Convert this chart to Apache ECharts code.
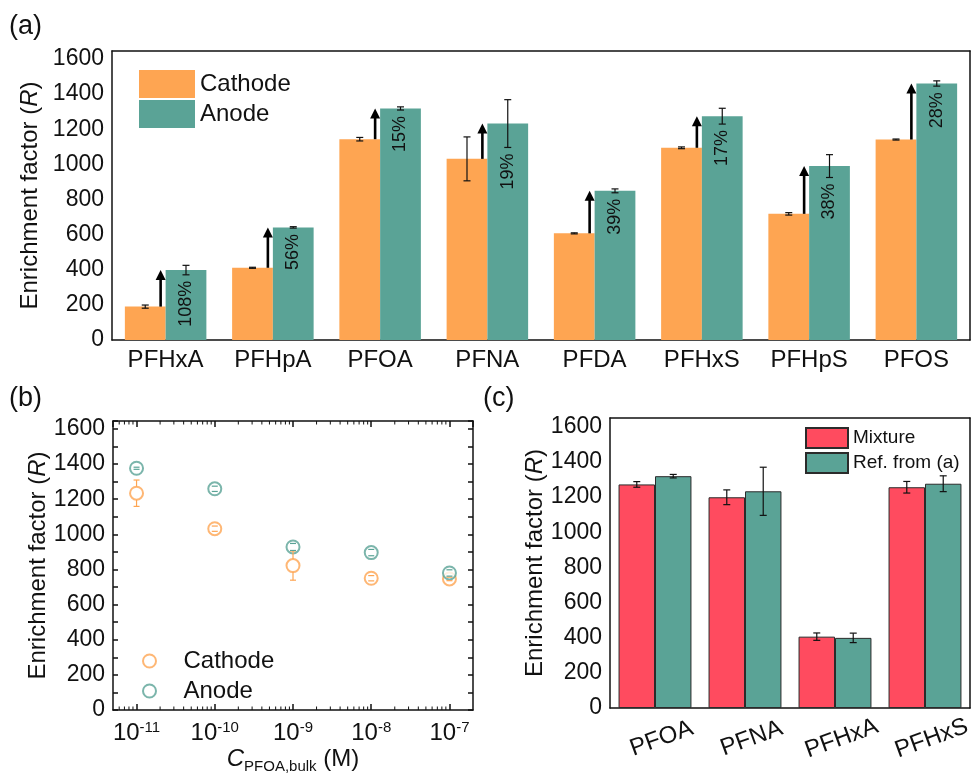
<!DOCTYPE html>
<html>
<head>
<meta charset="utf-8">
<script src="https://cdn.jsdelivr.net/npm/echarts@6/dist/echarts.min.js"></script>
<style>
    html, body {margin: 0; padding: 0; background: #fff;}
    #chart {width: 971px; height: 775px;}
</style>
</head>
<body>
<div id="chart"></div>
<script>
var FONT = 'Liberation Sans, Arial, sans-serif';
var ORANGE = '#FEA552', TEAL = '#5AA396', RED = '#FF4B5F';

// (a) 各物质阴极/阳极富集因子
var catA = ['PFHxA', 'PFHpA', 'PFOA', 'PFNA', 'PFDA', 'PFHxS', 'PFHpS', 'PFOS'];
var cathodeA = [190, 411, 1143, 1031, 607, 1094, 718, 1141];
var cathodeErrA = [9, 3, 10, 125, 3, 5, 7, 3];
var anodeA = [398, 641, 1318, 1232, 849, 1274, 990, 1460];
var anodeErrA = [27, 4, 9, 136, 11, 45, 65, 15];
var pctA = ['108%', '56%', '15%', '19%', '39%', '17%', '38%', '28%'];

// (b) 不同浓度下的富集因子
var concB = [1e-11, 1e-10, 1e-9, 1e-8, 1e-7];
var cathodeB = [1234, 1032, 822, 750, 746];
var cathodeErrB = [75, 15, 83, 15, 10];
var anodeB = [1376, 1259, 928, 896, 780];
var anodeErrB = [6, 15, 20, 18, 18];

// (c) 混合物对照
var catC = ['PFOA', 'PFNA', 'PFHxA', 'PFHxS'];
var mixtureC = [1272, 1199, 406, 1256];
var mixtureErrC = [16, 42, 21, 33];
var refC = [1319, 1233, 399, 1276];
var refErrC = [10, 137, 27, 45];

var yMaxAB = 1645, yMaxC = 1650;
var gapA = 0.24, gapC = 0.19;

function rows3(a, b, c) {
    return a.map(function (n, i) { return [c ? a[i] : i, c ? b[i] : a[i], c ? c[i] : b[i]]; });
}
function pairs(x, y) {
    return x.map(function (n, i) { return [n, y[i]]; });
}

// 误差棒（柱状图）
function errBar(side, gap, texts) {
    return function (params, api) {
        var i = api.value(0), v = api.value(1), e = api.value(2);
        var bw = api.size([1, 0])[0];
        var dx = side * bw * (1 - gap) / 4;
        var hi = api.coord([i, v + e]), lo = api.coord([i, v - e]);
        var x = hi[0] + dx;
        var st = {stroke: '#111', lineWidth: 1.2};
        var kids = [
            {type: 'line', shape: {x1: x, y1: hi[1], x2: x, y2: lo[1]}, style: st},
            {type: 'line', shape: {x1: x - 3.5, y1: hi[1], x2: x + 3.5, y2: hi[1]}, style: st},
            {type: 'line', shape: {x1: x - 3.5, y1: lo[1], x2: x + 3.5, y2: lo[1]}, style: st}
        ];
        if (texts) {
            kids.push({type: 'text', x: x, y: lo[1] + 6, rotation: Math.PI / 2,
                style: {text: texts[params.dataIndex], align: 'right', verticalAlign: 'middle',
                    fontSize: 18, fontFamily: FONT, fill: '#111'}});
        }
        return {type: 'group', children: kids};
    };
}

// 误差棒（散点）
function errPoint(color) {
    return function (params, api) {
        var c = api.coord([api.value(0), api.value(1)]);
        var hi = api.coord([api.value(0), api.value(1) + api.value(2)]);
        var lo = api.coord([api.value(0), api.value(1) - api.value(2)]);
        var x = c[0], r = 6.5;
        var st = {stroke: color, lineWidth: 1.2};
        var kids = [
            {type: 'line', shape: {x1: x - 3, y1: hi[1], x2: x + 3, y2: hi[1]}, style: st},
            {type: 'line', shape: {x1: x - 3, y1: lo[1], x2: x + 3, y2: lo[1]}, style: st}
        ];
        if (c[1] - hi[1] > r) kids.push({type: 'line', shape: {x1: x, y1: hi[1], x2: x, y2: c[1] - r}, style: st});
        if (lo[1] - c[1] > r) kids.push({type: 'line', shape: {x1: x, y1: c[1] + r, x2: x, y2: lo[1]}, style: st});
        return {type: 'group', children: kids};
    };
}

// 阴极 -> 阳极 箭头
function arrow(params, api) {
    var p0 = api.coord([api.value(0), api.value(1)]);
    var p1 = api.coord([api.value(0), api.value(2)]);
    var x = p0[0] - 5, h = 10, w = 5;
    return {type: 'group', children: [
        {type: 'line', shape: {x1: x, y1: p0[1], x2: x, y2: p1[1] + h - 1}, style: {stroke: '#000', lineWidth: 2.6}},
        {type: 'polygon', shape: {points: [[x, p1[1]], [x - w, p1[1] + h], [x + w, p1[1] + h]]}, style: {fill: '#000'}}
    ]};
}

// 对数轴次刻度
var minorB = [];
for (var n = -12; n <= -7; n++) {
    for (var m = 2; m <= 9; m++) {
        var v = m * Math.pow(10, n);
        if (v > 5e-12 && v < 2e-7) minorB.push([v, 0]);
    }
}
function logMinor(params, api) {
    var b = api.coord([api.value(0), 0]);
    var t = api.coord([api.value(0), yMaxAB]);
    var st = {stroke: '#111', lineWidth: 1};
    return {type: 'group', children: [
        {type: 'line', shape: {x1: b[0], y1: b[1], x2: b[0], y2: b[1] - 3.5}, style: st},
        {type: 'line', shape: {x1: t[0], y1: t[1], x2: t[0], y2: t[1] + 3.5}, style: st}
    ]};
}

var lineSt = {color: '#111', width: 1.5};
var line = {onZero: false, lineStyle: lineSt};
var txt = {fontFamily: FONT, color: '#111'};
var yName = 'Enrichment factor ({i|R})';
var yNameStyle = {fontSize: 24, fontFamily: FONT, color: '#111',
    rich: {i: {fontSize: 24, fontStyle: 'italic', fontFamily: FONT, color: '#111'}}};

function yLeft(grid, max) {
    return {type: 'value', gridIndex: grid, position: 'left', min: 0, max: max, interval: 100,
        axisLine: {show: true, onZero: false, lineStyle: lineSt},
        axisTick: {inside: true, length: 5, lineStyle: lineSt},
        axisLabel: Object.assign({fontSize: 23, margin: 8, formatter: function (v) {
            return v % 200 === 0 ? v : '';
        }}, txt),
        splitLine: {show: false},
        name: yName, nameLocation: 'middle', nameRotate: 90, nameGap: 60, nameTextStyle: yNameStyle};
}
function yRight(grid, max) {
    return {type: 'value', gridIndex: grid, position: 'right', min: 0, max: max, interval: 100,
        axisLine: {show: true, onZero: false, lineStyle: lineSt},
        axisTick: {inside: true, length: 5, lineStyle: lineSt},
        axisLabel: {show: false}, splitLine: {show: false}};
}

var option = {
    animation: false,
    backgroundColor: '#fff',
    textStyle: {fontFamily: FONT},
    graphic: [
        {type: 'text', left: 9, top: 13, style: {text: '(a)', fontSize: 27, fontFamily: FONT, fill: '#111'}},
        {type: 'text', left: 9, top: 385, style: {text: '(b)', fontSize: 27, fontFamily: FONT, fill: '#111'}},
        {type: 'text', left: 483, top: 385, style: {text: '(c)', fontSize: 27, fontFamily: FONT, fill: '#111'}}
    ],
    grid: [
        {left: 112, top: 51, width: 858, height: 289, outerBoundsMode: 'none'},
        {left: 113, top: 421, width: 360, height: 289, outerBoundsMode: 'none'},
        {left: 610, top: 418, width: 360, height: 290, outerBoundsMode: 'none'}
    ],
    legend: [
        {data: ['Cathode', 'Anode'], left: 139, top: 70, orient: 'vertical', icon: 'rect', padding: 0,
            itemWidth: 56, itemHeight: 28, itemGap: 2,
            textStyle: Object.assign({fontSize: 24}, txt)},
        {data: ['Cathode (b)', 'Anode (b)'], left: 142, top: 649, orient: 'vertical', padding: 0,
            itemWidth: 58, itemHeight: 13, itemGap: 6,
            formatter: function (name) { return name.replace(' (b)', ''); },
            textStyle: Object.assign({fontSize: 24}, txt)},
        {data: ['Mixture', 'Ref. from (a)'], left: 805, top: 427, orient: 'vertical', icon: 'rect', padding: 0,
            itemWidth: 42, itemHeight: 20, itemGap: 3,
            textStyle: Object.assign({fontSize: 19}, txt)}
    ],
    xAxis: [
        {type: 'category', gridIndex: 0, position: 'bottom', data: catA,
            axisLine: line, axisTick: {show: false},
            axisLabel: Object.assign({fontSize: 24, margin: 8, interval: 0}, txt)},
        {type: 'category', gridIndex: 0, position: 'top', data: catA,
            axisLine: line, axisTick: {inside: true, length: 5, alignWithLabel: true, lineStyle: lineSt},
            axisLabel: {show: false}},
        {type: 'log', logBase: 10, gridIndex: 1, position: 'bottom', min: 5e-12, max: 2e-7,
            axisLine: line, axisTick: {inside: true, length: 6, lineStyle: lineSt},
            splitLine: {show: false},
            axisLabel: Object.assign({fontSize: 24, margin: 10, showMinLabel: false, showMaxLabel: false,
                formatter: function (v) { return '10{sup|' + Math.round(Math.log10(v)) + '}'; },
                rich: {sup: {fontSize: 15, fontFamily: FONT, color: '#111', padding: [0, 0, 12, 0]}}}, txt),
            name: '{i|C}{sub|PFOA,bulk} (M)', nameLocation: 'middle', nameGap: 35,
            nameTextStyle: {fontSize: 24, fontFamily: FONT, color: '#111',
                rich: {i: {fontSize: 24, fontStyle: 'italic', fontFamily: FONT, color: '#111'},
                    sub: {fontSize: 15, fontFamily: FONT, color: '#111', padding: [14, 0, 0, 0]}}}},
        {type: 'log', logBase: 10, gridIndex: 1, position: 'top', min: 5e-12, max: 2e-7,
            axisLine: line, axisTick: {inside: true, length: 6, lineStyle: lineSt},
            splitLine: {show: false}, axisLabel: {show: false}},
        {type: 'category', gridIndex: 2, position: 'bottom', data: catC,
            axisLine: line, axisTick: {show: false},
            axisLabel: Object.assign({fontSize: 24, margin: 33, rotate: 20, align: 'center', interval: 0,
                verticalAlign: 'middle', padding: [0, 0, 0, 14]}, txt)},
        {type: 'category', gridIndex: 2, position: 'top', data: catC,
            axisLine: line, axisTick: {inside: true, length: 5, alignWithLabel: true, lineStyle: lineSt},
            axisLabel: {show: false}}
    ],
    yAxis: [
        yLeft(0, yMaxAB), yRight(0, yMaxAB),
        yLeft(1, yMaxAB), yRight(1, yMaxAB),
        yLeft(2, yMaxC), yRight(2, yMaxC)
    ],
    series: [
        {name: 'Cathode', type: 'bar', xAxisIndex: 0, yAxisIndex: 0, data: cathodeA,
            barGap: '0%', barCategoryGap: (gapA * 100) + '%', itemStyle: {color: ORANGE}},
        {name: 'Anode', type: 'bar', xAxisIndex: 0, yAxisIndex: 0, data: anodeA,
            itemStyle: {color: TEAL}},
        {type: 'custom', xAxisIndex: 0, yAxisIndex: 0, z: 4, renderItem: errBar(-1, gapA),
            data: rows3(cathodeA, cathodeErrA), encode: {x: 0, y: 1}},
        {type: 'custom', xAxisIndex: 0, yAxisIndex: 0, z: 4, renderItem: errBar(1, gapA, pctA),
            data: rows3(anodeA, anodeErrA), encode: {x: 0, y: 1}},
        {type: 'custom', xAxisIndex: 0, yAxisIndex: 0, z: 4, renderItem: arrow,
            data: rows3(cathodeA, anodeA), encode: {x: 0, y: [1, 2]}},

        {name: 'Cathode (b)', type: 'scatter', xAxisIndex: 2, yAxisIndex: 2, data: pairs(concB, cathodeB),
            symbol: 'emptyCircle', symbolSize: 13, itemStyle: {color: ORANGE, borderWidth: 1.8}},
        {name: 'Anode (b)', type: 'scatter', xAxisIndex: 2, yAxisIndex: 2, data: pairs(concB, anodeB),
            symbol: 'emptyCircle', symbolSize: 13, itemStyle: {color: TEAL, borderWidth: 1.8}},
        {type: 'custom', xAxisIndex: 2, yAxisIndex: 2, z: 4, renderItem: errPoint(ORANGE),
            data: rows3(concB, cathodeB, cathodeErrB), encode: {x: 0, y: 1}},
        {type: 'custom', xAxisIndex: 2, yAxisIndex: 2, z: 4, renderItem: errPoint(TEAL),
            data: rows3(concB, anodeB, anodeErrB), encode: {x: 0, y: 1}},
        {type: 'custom', xAxisIndex: 2, yAxisIndex: 2, z: 4, renderItem: logMinor,
            data: minorB, encode: {x: 0, y: 1}},

        {name: 'Mixture', type: 'bar', xAxisIndex: 4, yAxisIndex: 4, data: mixtureC,
            barGap: '0%', barCategoryGap: (gapC * 100) + '%',
            itemStyle: {color: RED, borderColor: '#2b2b2b', borderWidth: 1}},
        {name: 'Ref. from (a)', type: 'bar', xAxisIndex: 4, yAxisIndex: 4, data: refC,
            itemStyle: {color: TEAL, borderColor: '#2b2b2b', borderWidth: 1}},
        {type: 'custom', xAxisIndex: 4, yAxisIndex: 4, z: 4, renderItem: errBar(-1, gapC),
            data: rows3(mixtureC, mixtureErrC), encode: {x: 0, y: 1}},
        {type: 'custom', xAxisIndex: 4, yAxisIndex: 4, z: 4, renderItem: errBar(1, gapC),
            data: rows3(refC, refErrC), encode: {x: 0, y: 1}}
    ]
};

var chart = echarts.init(document.getElementById('chart'));
chart.setOption(option);
</script>
</body>
</html>
